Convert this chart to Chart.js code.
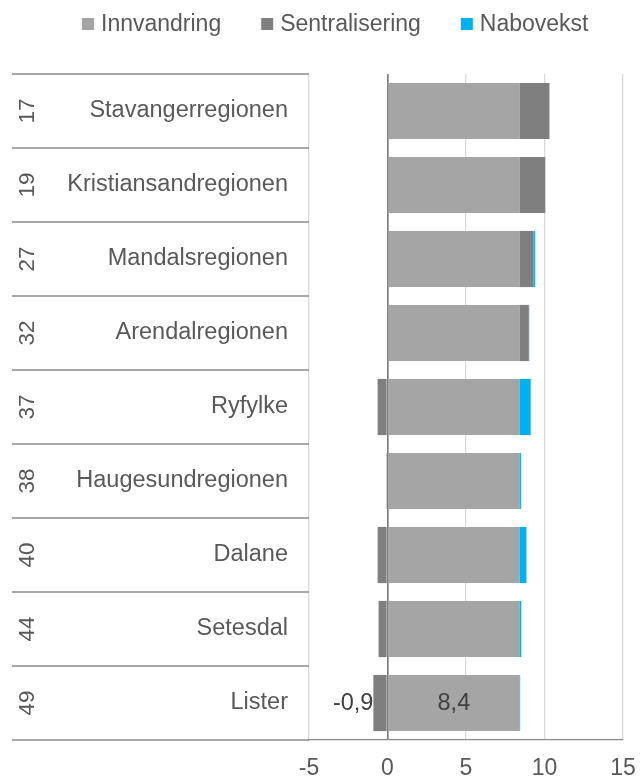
<!DOCTYPE html>
<html>
<head>
<meta charset="utf-8">
<script src="https://cdn.jsdelivr.net/npm/chart.js@4.4.0/dist/chart.umd.min.js"></script>
<style>
  html, body { margin: 0; padding: 0; background: #fff; }
</style>
</head>
<body>
<canvas id="chart" width="640" height="778"></canvas>
<script>
// ============================================
// DATA
// ============================================
const regions = ['Stavangerregionen', 'Kristiansandregionen', 'Mandalsregionen', 'Arendalregionen',
  'Ryfylke', 'Haugesundregionen', 'Dalane', 'Setesdal', 'Lister'];
const ranks = ['17', '19', '27', '32', '37', '38', '40', '44', '49'];
const innvandring = [8.4, 8.4, 8.4, 8.4, 8.4, 8.4, 8.4, 8.4, 8.4];
const sentralisering = [1.9, 1.65, 0.9, 0.6, -0.63, -0.08, -0.63, -0.57, -0.9];
const nabovekst = [0.02, 0, 0.1, 0.03, 0.72, 0.1, 0.45, 0.12, 0.05];
const xTicks = [-5, 0, 5, 10, 15];
// only the last row carries data labels in the original
const labelledRow = 8;

const FONT = '"Liberation Sans", Arial, sans-serif';
const TEXT = '#595959';

// ============================================
// PLUGIN: two-level category table, legend, data labels
// ============================================
const decorPlugin = {
  id: 'decor',
  afterDraw(chart) {
    const { ctx, chartArea } = chart;
    const y = chart.scales.y;
    const n = regions.length;

    // horizontal separators in label area
    ctx.save();
    ctx.strokeStyle = '#8a8a8a';
    ctx.lineWidth = 1.3;
    for (let i = 0; i <= n; i++) {
      let py;
      if (i === 0) py = chartArea.top;
      else if (i === n) py = chartArea.bottom;
      else py = (y.getPixelForValue(i - 1) + y.getPixelForValue(i)) / 2;
      ctx.beginPath();
      ctx.moveTo(12, py);
      ctx.lineTo(chartArea.left, py);
      ctx.stroke();
    }

    // rank numbers, rotated
    ctx.fillStyle = TEXT;
    ctx.font = '22.5px ' + FONT;
    ctx.textAlign = 'center';
    ctx.textBaseline = 'middle';
    ranks.forEach((r, i) => {
      ctx.save();
      ctx.translate(28, y.getPixelForValue(i));
      ctx.rotate(-Math.PI / 2);
      ctx.fillText(r, 0, 0);
      ctx.restore();
    });

    // data labels on the last row
    ctx.font = '23.5px ' + FONT;
    ctx.fillStyle = '#404040';
    const sBar = chart.getDatasetMeta(1).data[labelledRow];
    const iBar = chart.getDatasetMeta(0).data[labelledRow];
    const fmt = v => v.toFixed(1).replace('.', ',');
    ctx.textAlign = 'right';
    ctx.fillText(fmt(sentralisering[labelledRow]), Math.min(sBar.x, sBar.base), sBar.y + 1);
    ctx.textAlign = 'center';
    ctx.fillText(fmt(innvandring[labelledRow]), (iBar.x + iBar.base) / 2, iBar.y + 1);

    // legend
    ctx.font = '23px ' + FONT;
    ctx.textAlign = 'left';
    let lx = 82;
    chart.data.datasets.forEach(ds => {
      ctx.fillStyle = ds.backgroundColor;
      ctx.fillRect(lx, 18, 12, 12);
      ctx.fillStyle = TEXT;
      ctx.fillText(ds.label, lx + 19, 25);
      lx += 19 + ctx.measureText(ds.label).width + 40;
    });
    ctx.restore();
  }
};

// ============================================
// CHART
// ============================================
new Chart(document.getElementById('chart'), {
  type: 'bar',
  data: {
    labels: regions,
    datasets: [
      { label: 'Innvandring', data: innvandring, backgroundColor: '#a5a5a5' },
      { label: 'Sentralisering', data: sentralisering, backgroundColor: '#7f7f7f' },
      { label: 'Nabovekst', data: nabovekst, backgroundColor: '#00b0f0' }
    ]
  },
  options: {
    indexAxis: 'y',
    responsive: false,
    animation: false,
    categoryPercentage: 1,
    barPercentage: 0.76,
    layout: { padding: { top: 74, right: 17, left: 0, bottom: 0 } },
    plugins: { legend: { display: false }, tooltip: { enabled: false } },
    scales: {
      x: {
        stacked: true,
        min: -5, max: 15,
        afterBuildTicks: s => { s.ticks = xTicks.map(v => ({ value: v })); },
        afterFit: s => { s.height = 38; s.paddingRight = 0; s.paddingLeft = 0; },
        ticks: { font: { family: FONT, size: 23 }, color: TEXT, padding: 15 },
        grid: {
          drawTicks: false,
          color: c => (c.tick && c.tick.value === 0) ? '#7f7f7f' : '#d9d9d9',
          lineWidth: c => (c.tick && c.tick.value === 0) ? 1.7 : 1.3
        },
        border: { color: '#8a8a8a', width: 1.3 }
      },
      y: {
        stacked: true,
        afterFit: s => { s.width = 309; },
        ticks: { font: { family: FONT, size: 23.5 }, color: TEXT, padding: 21 },
        grid: { display: false, drawTicks: false },
        border: { display: false }
      }
    }
  },
  plugins: [decorPlugin]
});
</script>
</body>
</html>
